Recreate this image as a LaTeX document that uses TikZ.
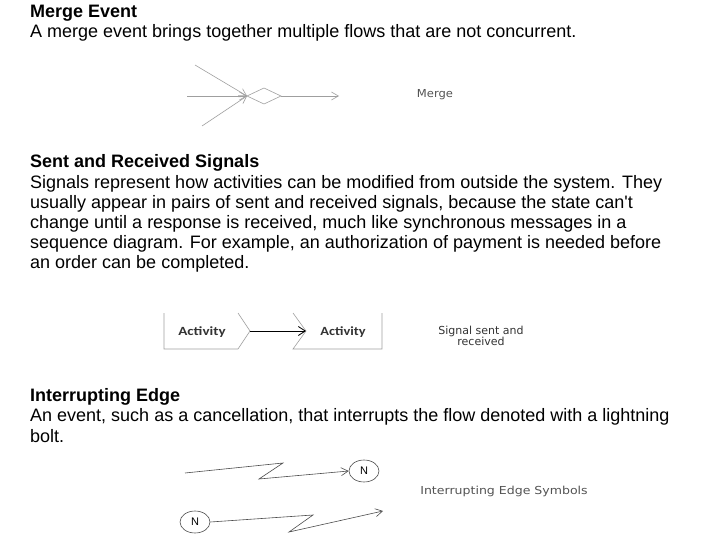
\documentclass[tikz,border=0pt]{standalone}
\usepackage{fontspec}
\usepackage{graphicx}
\setmainfont{Liberation Sans}
\newfontfamily\lblfont{Carlito}
\newfontfamily\smallfont{DejaVu Sans}
\usetikzlibrary{arrows.meta,shapes.geometric}
\begin{document}
\begin{tikzpicture}[x=1pt,y=-1pt,
  txt/.style={anchor=base west,inner sep=0pt,font=\fontsize{18}{21}\selectfont},
  hd/.style={anchor=base west,inner sep=0pt,font=\fontsize{18}{21}\selectfont\bfseries},
  ln/.style={draw=gray!75,line width=0.6pt},
  blk/.style={draw=black,line width=0.8pt},
  barb/.style={-{Straight Barb[length=7pt,width=8pt]}},
  small/.style={font=\smallfont\fontsize{11}{11.5}\selectfont,text=gray!65!black,inner sep=0pt,align=center},
  act/.style={font=\lblfont\bfseries\fontsize{12.5}{14}\selectfont,text=black!80,inner sep=0pt},
  nnode/.style={ellipse,draw=gray!60!black,line width=0.6pt,minimum width=30pt,minimum height=22pt,inner sep=0pt,font=\fontsize{11}{12}\selectfont}
]
\useasboundingbox (0,0) rectangle (720,540);

% ---------- Section 1 ----------
\node[hd]  (h1) at (30,18) {Merge Event};
\node[txt] (t1) at (30,38) {A merge event brings together multiple flows that are not concurrent.};

\coordinate (m1) at (195,65);
\coordinate (m2) at (187,96);
\coordinate (m3) at (202,126);
\coordinate (dl) at (247,96);
\coordinate (dt) at (264,88);
\coordinate (dr) at (281,96);
\coordinate (db) at (264,104);
\coordinate (mo) at (339,96);
\draw[ln] (dl) -- (dt) -- (dr) -- (db) -- cycle;
\draw[ln,barb] (m1) -- (dl);
\draw[ln,barb] (m2) -- (dl);
\draw[ln,barb] (m3) -- (dl);
\draw[ln,barb] (dr) -- (mo);
\node[small] (lm) at (435,95) {\scalebox{1.05}[1]{Merge}};

% ---------- Section 2 ----------
\node[hd]  (h2) at (30,168) {Sent and Received Signals};
\node[txt] (t2a) at (30,188.5) {Signals represent how activities can be modified from outside the system. They};
\node[txt] (t2b) at (30,208.5) {usually appear in pairs of sent and received signals, because the state can\textquotesingle t};
\node[txt] (t2c) at (30,228.5) {change until a response is received, much like synchronous messages in a};
\node[txt] (t2d) at (30,248.5) {sequence diagram. For example, an authorization of payment is needed before};
\node[txt] (t2e) at (30,268.5) {an order can be completed.};

\coordinate (s1) at (164,313);
\coordinate (s2) at (164,349);
\coordinate (s3) at (238,349);
\coordinate (s4) at (250,331);
\coordinate (s5) at (238,313);
\draw[ln] (s1) -- (s2) -- (s3) -- (s4) -- (s5);
\coordinate (r1) at (293,313);
\coordinate (r2) at (306,331);
\coordinate (r3) at (293,349);
\coordinate (r4) at (382,349);
\coordinate (r5) at (382,313);
\draw[ln] (r1) -- (r2) -- (r3) -- (r4) -- (r5);
\draw[blk,-{Straight Barb[length=7pt,width=9pt]}] (s4) -- (r2);
\node[act] (a1) at (202,332) {\scalebox{1.2}[1]{Activity}};
\node[act] (a2) at (343,332) {\scalebox{1.15}[1]{Activity}};
\node[small,text=black!80] (ls) at (481,336) {Signal sent and\\received};

% ---------- Section 3 ----------
\node[hd]  (h3) at (30,401) {Interrupting Edge};
\node[txt] (t3a) at (30,421) {An event, such as a cancellation, that interrupts the flow denoted with a lightning};
\node[txt] (t3b) at (30,442) {bolt.};

\node[nnode] (n1) at (364,471) {N};
\coordinate (u1) at (185,473);
\coordinate (u2) at (283,463);
\coordinate (u3) at (259,479);
\draw[ln,draw=gray!60!black,barb] (u1) -- (u2) -- (u3) -- (n1.west);

\node[nnode] (n2) at (195,522) {N};
\coordinate (w2) at (313,515);
\coordinate (w3) at (289,532);
\coordinate (w4) at (383,511);
\draw[ln,draw=gray!60!black,barb] (n2.east) -- (w2) -- (w3) -- (w4);
\node[small] (li) at (504,491) {\scalebox{1.14}[1]{Interrupting Edge Symbols}};
\end{tikzpicture}
\end{document}
